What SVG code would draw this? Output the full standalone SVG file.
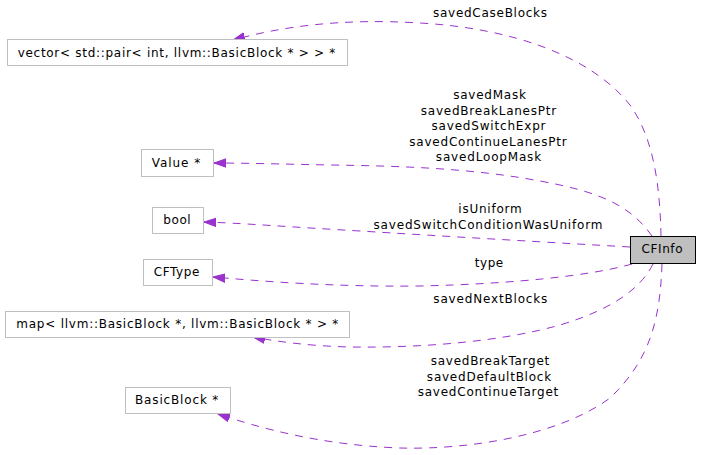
<svg xmlns="http://www.w3.org/2000/svg" width="701" height="455" viewBox="0 0 701 455">
<style>
text{font-family:"DejaVu Sans","Liberation Sans",sans-serif;font-size:12px;fill:#000;text-anchor:middle}
.n{fill:#fff;stroke:#bfbfbf;stroke-width:1}
.m{fill:#bfbfbf;stroke:#000;stroke-width:1}
.e{fill:none;stroke:#9a32cd;stroke-width:1;stroke-dasharray:8,7}
</style>
<defs>
<marker id="ah" markerUnits="userSpaceOnUse" markerWidth="14" markerHeight="10" refX="12" refY="5" orient="auto">
<path d="M0,0.8 L12,5 L0,9.2 Z" fill="#9a32cd" stroke="#9a32cd"/>
</marker>
</defs>
<rect width="701" height="455" fill="#fff"/>
<g id="connectors">
<path class="e" marker-end="url(#ah)" d="M661,236 C660,190 655,140 630,105 C590,55 510,28 420,23 C340,18 280,27 233,40"/>
<path class="e" marker-end="url(#ah)" d="M652,236 C630,205 600,192 540,181 C470,168 400,166 330,165 C280,164 240,163 214,163"/>
<path class="e" marker-end="url(#ah)" d="M630,247 C560,243 440,236 360,231 C290,227 240,223 204,222"/>
<path class="e" marker-end="url(#ah)" d="M632,264 C590,276 510,284 420,286 C330,287 260,281 213,277"/>
<path class="e" marker-end="url(#ah)" d="M653,264 C640,290 610,310 560,325 C500,342 420,348 350,347 C310,346 280,342 253,337"/>
<path class="e" marker-end="url(#ah)" d="M662,264 C660,320 650,360 610,398 C560,435 470,450 400,448 C320,445 260,428 218,414"/>
</g>
<g id="labels">
<text x="490" y="17" textLength="114" lengthAdjust="spacing">savedCaseBlocks</text>
<text x="489.5" y="99" textLength="72.7" lengthAdjust="spacing">savedMask</text>
<text x="488.5" y="114.5" textLength="135.3" lengthAdjust="spacing">savedBreakLanesPtr</text>
<text x="488.5" y="130" textLength="114" lengthAdjust="spacing">savedSwitchExpr</text>
<text x="488" y="145.5" textLength="157.4" lengthAdjust="spacing">savedContinueLanesPtr</text>
<text x="488.5" y="161" textLength="105.3" lengthAdjust="spacing">savedLoopMask</text>
<text x="490" y="212.7" textLength="63.4" lengthAdjust="spacing">isUniform</text>
<text x="488" y="228.7" textLength="229" lengthAdjust="spacing">savedSwitchConditionWasUniform</text>
<text x="489" y="267" textLength="28.3" lengthAdjust="spacing">type</text>
<text x="490.3" y="303.3" textLength="114" lengthAdjust="spacing">savedNextBlocks</text>
<text x="490" y="364.7" textLength="118.6" lengthAdjust="spacing">savedBreakTarget</text>
<text x="489" y="380.7" textLength="124.3" lengthAdjust="spacing">savedDefaultBlock</text>
<text x="488" y="396.3" textLength="140.6" lengthAdjust="spacing">savedContinueTarget</text>
</g>
<g id="node-CFInfo">
<rect class="m" x="630.5" y="236.5" width="65" height="27"/>
<text x="662" y="252.7" textLength="41" lengthAdjust="spacing">CFInfo</text>
</g>
<g id="node-vector">
<rect class="n" x="7.5" y="39.5" width="340" height="26"/>
<text x="176.5" y="57" textLength="317.7" lengthAdjust="spacing">vector&lt; std::pair&lt; int, llvm::BasicBlock * &gt; &gt; *</text>
</g>
<g id="node-Value">
<rect class="n" x="141.5" y="149.5" width="72" height="27"/>
<text x="176" y="167.3" textLength="48.3" lengthAdjust="spacing">Value *</text>
</g>
<g id="node-bool">
<rect class="n" x="152.5" y="207.5" width="51" height="26"/>
<text x="177" y="224" textLength="27.4" lengthAdjust="spacing">bool</text>
</g>
<g id="node-CFType">
<rect class="n" x="143.5" y="259.5" width="69" height="26"/>
<text x="176.5" y="276" textLength="45.6" lengthAdjust="spacing">CFType</text>
</g>
<g id="node-map">
<rect class="n" x="5.5" y="311.5" width="344" height="26"/>
<text x="177.3" y="327.7" textLength="322" lengthAdjust="spacing">map&lt; llvm::BasicBlock *, llvm::BasicBlock * &gt; *</text>
</g>
<g id="node-BasicBlock">
<rect class="n" x="125.5" y="387.5" width="105" height="26"/>
<text x="176.7" y="404" textLength="83.3" lengthAdjust="spacing">BasicBlock *</text>
</g>
</svg>
